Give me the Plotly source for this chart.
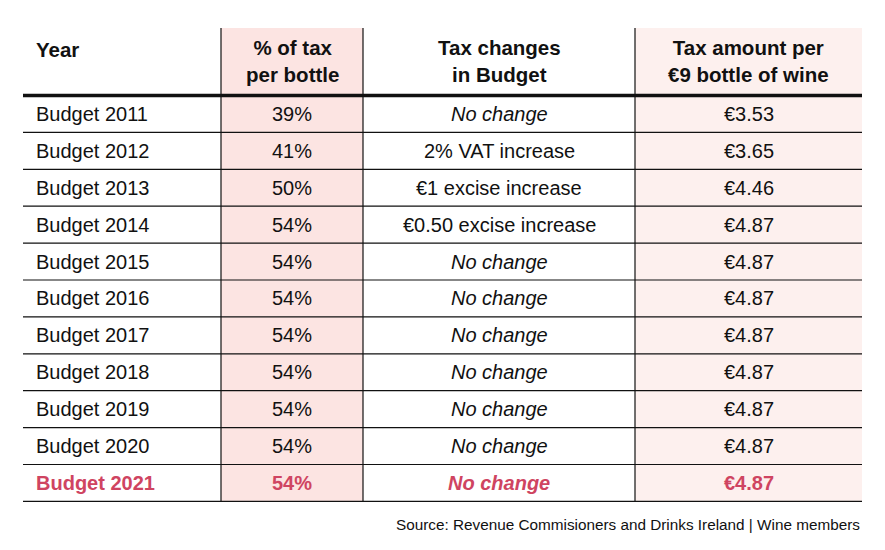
import plotly.graph_objects as go

# ---- data ----
headers = ["Year", "% of tax<br>per bottle", "Tax changes<br>in Budget", "Tax amount per<br>€9 bottle of wine"]
years = ["Budget 2011", "Budget 2012", "Budget 2013", "Budget 2014", "Budget 2015", "Budget 2016",
         "Budget 2017", "Budget 2018", "Budget 2019", "Budget 2020", "Budget 2021"]
tax_pct = [39, 41, 50, 54, 54, 54, 54, 54, 54, 54, 54]
tax_changes = ["No change", "2% VAT increase", "€1 excise increase", "€0.50 excise increase",
               "No change", "No change", "No change", "No change", "No change", "No change", "No change"]
tax_amount = [3.53, 3.65, 4.46, 4.87, 4.87, 4.87, 4.87, 4.87, 4.87, 4.87, 4.87]
highlight_row = "Budget 2021"
source = "Source: Revenue Commisioners and Drinks Ireland | Wine members"

# ---- layout ----
W, H = 885, 550
OFF = 8  # page body margin
col_edges = [23, 221, 363, 635, 862]
top = 28
header_bottom = 95.5
row_h = 36.9
font = "Liberation Sans, Arial, Helvetica, sans-serif"
fs = 20
fs_head = 20.5
black = "#111111"
red = "#cf4461"
pink1 = "#fce4e2"
pink2 = "#fdf0ee"

n = len(years)
bottom = header_bottom + n * row_h

shapes = []
shapes.append(dict(type="rect", x0=col_edges[1], x1=col_edges[2], y0=top, y1=bottom,
                   fillcolor=pink1, line=dict(width=0), layer="below"))
shapes.append(dict(type="rect", x0=col_edges[3], x1=col_edges[4], y0=top, y1=bottom,
                   fillcolor=pink2, line=dict(width=0), layer="below"))
for xe in col_edges[1:4]:
    shapes.append(dict(type="line", x0=xe, x1=xe, y0=top, y1=bottom, line=dict(color=black, width=1.2)))
shapes.append(dict(type="line", x0=col_edges[0], x1=col_edges[4], y0=header_bottom, y1=header_bottom,
                   line=dict(color=black, width=3.5)))
for i in range(1, n + 1):
    yl = header_bottom + i * row_h
    shapes.append(dict(type="line", x0=col_edges[0], x1=col_edges[4], y0=yl, y1=yl,
                       line=dict(color=black, width=1.2)))

annotations = []
centers = [(col_edges[k] + col_edges[k + 1]) / 2 for k in range(4)]
xpos = [34, centers[1], centers[2], centers[3]]
anchors = ["left", "center", "center", "center"]

header_y = (top + header_bottom) / 2 - 1
for k, h in enumerate(headers):
    n_lines = h.count("<br>") + 1
    annotations.append(dict(x=xpos[k], y=header_y if n_lines > 1 else 49, text="<b>" + h + "</b>",
                            showarrow=False, xanchor=anchors[k], yanchor="middle", align=anchors[k],
                            font=dict(family=font, size=fs_head, color=black)))

for i in range(n):
    yc = header_bottom + (i + 0.5) * row_h
    hl = years[i] == highlight_row
    col = red if hl else black
    vals = [years[i], f"{tax_pct[i]}%", tax_changes[i], f"€{tax_amount[i]:.2f}"]
    for k, v in enumerate(vals):
        t = v
        if k == 2 and v == "No change":
            t = "<i>" + t + "</i>"
        if hl:
            t = "<b>" + t + "</b>"
        annotations.append(dict(x=xpos[k], y=yc, text=t, showarrow=False,
                                xanchor=anchors[k], yanchor="middle",
                                font=dict(family=font, size=fs, color=col)))

annotations.append(dict(x=col_edges[4], y=bottom + 23, text=source, showarrow=False,
                        xanchor="right", yanchor="middle",
                        font=dict(family=font, size=15.3, color=black)))

fig = go.Figure()
fig.update_layout(
    width=W - 2 * OFF, height=H - 2 * OFF,
    margin=dict(l=0, r=0, t=0, b=0),
    paper_bgcolor="white", plot_bgcolor="white",
    xaxis=dict(range=[OFF, W - OFF], visible=False, fixedrange=True),
    yaxis=dict(range=[H - OFF, OFF], visible=False, fixedrange=True),
    shapes=shapes, annotations=annotations, showlegend=False,
)
fig.write_html("out.html")
